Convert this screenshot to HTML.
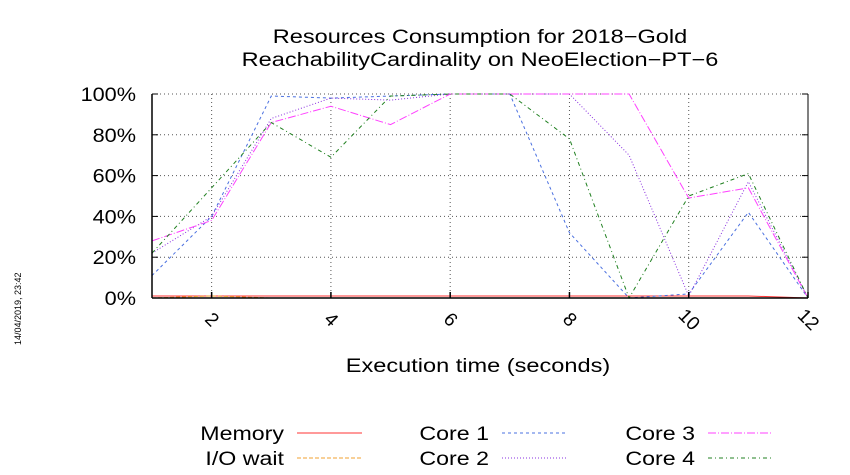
<!DOCTYPE html>
<html><head><meta charset="utf-8"><style>
body{margin:0;background:#fff;}
svg{display:block;font-family:"Liberation Sans",sans-serif;}
</style></head><body>
<svg id="c" width="850" height="475">
<text class="w" x="480" y="43" font-size="19" text-anchor="middle">Resources Consumption for 2018−Gold</text>
<text class="w" x="480" y="66" font-size="19" text-anchor="middle">ReachabilityCardinality on NeoElection−PT−6</text>
<text class="w" x="478" y="372" font-size="19" text-anchor="middle">Execution time (seconds)</text>
<text transform="translate(21,345) rotate(-90)" font-size="9">14/04/2019, 23:42</text>
<g id="grid"></g><g id="series"></g><g id="axes"></g><g id="legend"></g>
</svg>
<script>
const xs=[1,2,3,4,5,6,7,8,9,10,11,12];
const memory=[1,1,1,1,1,1,1,1,1,1,1,0];
const iowait=[0,1,0,0,0,0,0,0,0,0,0,0];
const core1=[11,40,99,98,99,100,100,32,0,2,42,0];
const core2=[22,40,88,98,97,100,100,100,70,1,57,0];
const core3=[28,38,86,94,85,100,100,100,100,49,54,0];
const core4=[22,54,86,69,99,100,100,78,0,50,61,0];
const yTicks=[0,20,40,60,80,100];
const xTicks=[2,4,6,8,10,12];
const NS='http://www.w3.org/2000/svg';
const L=152,R=808,T=94,B=298;
const sx=v=>L+(v-1)*(R-L)/11, sy=v=>B-v*(B-T)/100;
function mk(t,a,p){const e=document.createElementNS(NS,t);for(const k in a)e.setAttribute(k,a[k]);p.appendChild(e);return e;}
function widen(e,f){const w=e.getComputedTextLength();e.setAttribute('textLength',w*f);e.setAttribute('lengthAdjust','spacingAndGlyphs');}
const g=document.getElementById('grid'),ax=document.getElementById('axes'),s=document.getElementById('series'),lg=document.getElementById('legend');
document.querySelectorAll('text.w').forEach(e=>widen(e,1.24));
yTicks.forEach(v=>{
 if(v>0&&v<100){const l=mk('line',{x1:L,x2:R,y1:sy(v),y2:sy(v),stroke:'#555','stroke-dasharray':'1,3'},g);
 
 }
 const t=mk('text',{x:L-16,y:sy(v)+7,'font-size':19,'text-anchor':'end'},ax);t.textContent=v+'%';
 
 
 widen(t,1.14);
 mk('line',{x1:L,x2:L+6,y1:sy(v),y2:sy(v),stroke:'#000'},ax);
 mk('line',{x1:R,x2:R-6,y1:sy(v),y2:sy(v),stroke:'#000'},ax);
});
mk('line',{x1:L,x2:R,y1:T,y2:T,stroke:'#555','stroke-dasharray':'1,3'},g);
xTicks.forEach(v=>{
 if(v<12){const l=mk('line',{x1:sx(v),x2:sx(v),y1:T,y2:B,stroke:'#555','stroke-dasharray':'1,3'},g);
 
 }
 mk('line',{x1:sx(v),x2:sx(v),y1:B,y2:B-6,stroke:'#000','stroke-width':1.5},ax);
 const t=mk('text',{transform:`translate(${sx(v)-4},${B+26}) rotate(45)`,'font-size':19,'text-anchor':'middle'},ax);t.textContent=v;
 
 
});
mk('line',{x1:L,x2:L,y1:T,y2:B,stroke:'#000','stroke-width':1.5},ax);
mk('line',{x1:L,x2:R,y1:B,y2:B,stroke:'#000','stroke-width':1.5},ax);
mk('line',{x1:R,x2:R,y1:T,y2:B,stroke:'#000'},ax);
const ser=[
 ['memory-line',memory,'#ff3333','none','Memory',287,433],
 ['iowait-line',iowait,'#f0a030','4,2','I/O wait',287,458],
 ['core1-line',core1,'#4a70e0','3,3','Core 1',492,433],
 ['core2-line',core2,'#8a30e0','1,2','Core 2',492,458],
 ['core3-line',core3,'#ff40ff','8,2,1,2','Core 3',698,433],
 ['core4-line',core4,'#208020','4,3,1,3','Core 4',698,458]];
ser.forEach(([n,d,c,da,lab,lx,ly])=>{
 const p=mk('polyline',{points:xs.map((x,i)=>sx(x)+','+sy(d[i])).join(' '),fill:'none',stroke:c,'stroke-dasharray':da},s);
 
 
 const t=mk('text',{x:lx-3,y:ly+7,'font-size':19,'text-anchor':'end'},lg);t.textContent=lab;
 
 
 widen(t,1.22);
 const l=mk('line',{x1:lx+10,x2:lx+75,y1:ly,y2:ly,stroke:c,'stroke-dasharray':da},lg);
 
 
});
</script>
</body></html>
